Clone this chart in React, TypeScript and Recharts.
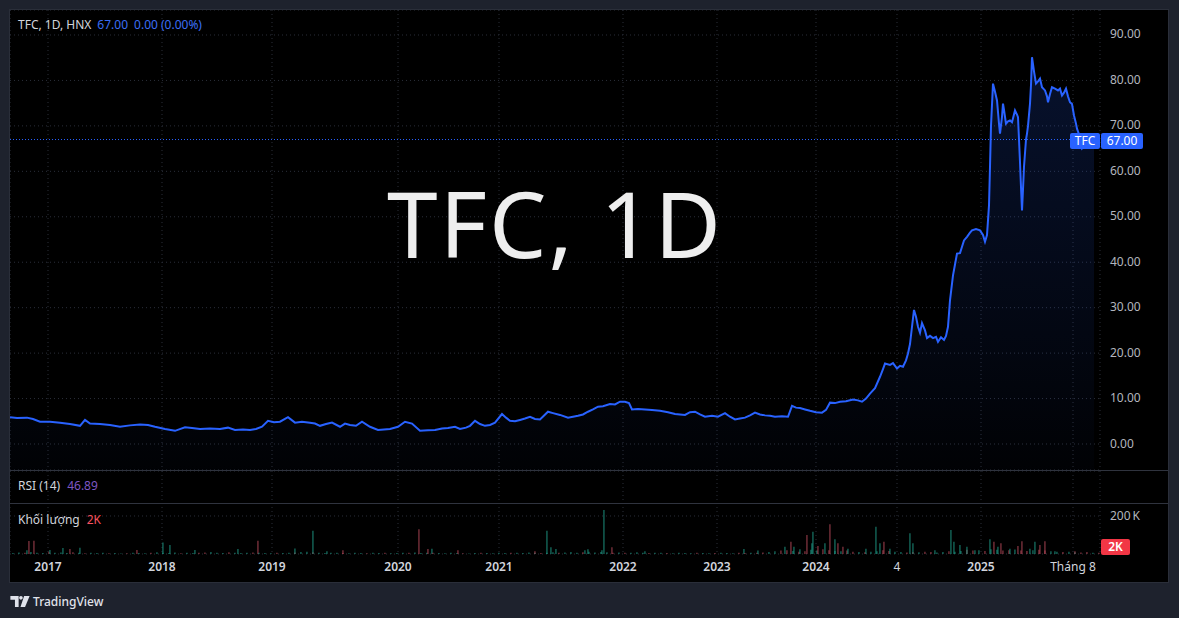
import { ComposedChart, Area, Bar, Cell, XAxis, YAxis, CartesianGrid, ReferenceLine } from 'recharts';

// header / legend values
const symbol = 'TFC';
const interval = '1D';
const exchange = 'HNX';
const lastClose = 67.0;
const change = '0.00 (0.00%)';
const rsiValue = '46.89';
const lastVolume = '2K';

// time axis is bar-indexed (TradingView skips empty sessions)
const tickBars = [38, 152, 262, 388, 489, 613, 707, 806, 887, 971, 1063];
const tickLabels = ['2017', '2018', '2019', '2020', '2021', '2022', '2023', '2024', '4', '2025', 'Tháng 8'];
const yearLabels = ['2017', '2018', '2019', '2020', '2021', '2022', '2023', '2024', '2025'];
const priceTicks = [0, 10, 20, 30, 40, 50, 60, 70, 80, 90];
const volumeTicks = [200000];

// [bar, close]
const closes: [number, number][] = [
  [0, 5.9], [7, 5.7], [17, 5.8], [23, 5.5], [30, 4.9], [40, 4.9], [50, 4.7], [60, 4.4], [70, 4.0], [75, 5.3],
  [80, 4.5], [90, 4.4], [100, 4.2], [110, 3.8], [120, 4.1], [130, 4.3], [138, 4.2], [145, 3.8], [155, 3.3], [165, 2.9],
  [175, 3.7], [182, 3.5], [190, 3.3], [200, 3.4], [210, 3.3], [218, 3.6], [225, 3.1], [233, 3.2], [240, 3.1], [246, 3.3],
  [252, 3.8], [258, 5.1], [264, 4.8], [270, 4.9], [278, 5.9], [285, 4.7], [292, 4.9], [300, 4.7], [305, 4.5], [310, 4.0],
  [316, 4.4], [322, 4.7], [330, 3.8], [335, 4.5], [340, 4.2], [346, 4.0], [352, 4.9], [360, 3.8], [368, 3.1], [374, 3.2],
  [380, 3.3], [388, 3.8], [395, 4.9], [402, 4.5], [410, 2.9], [418, 3.0], [425, 3.1], [432, 3.4], [438, 3.5], [445, 3.8],
  [450, 3.3], [456, 3.6], [460, 4.0], [465, 5.1], [470, 4.4], [475, 4.0], [480, 4.2], [485, 4.7], [492, 6.6], [496, 5.8],
  [500, 5.1], [505, 5.0], [510, 5.3], [515, 5.6], [520, 6.0], [525, 5.5], [530, 5.4], [538, 7.1], [543, 6.8], [550, 6.4],
  [558, 5.8], [563, 6.0], [568, 6.2], [573, 6.5], [578, 7.1], [583, 7.6], [588, 8.2], [593, 8.3], [600, 8.8], [605, 8.7],
  [610, 9.3], [615, 9.3], [619, 9.0], [622, 7.6], [628, 7.7], [635, 7.6], [642, 7.5], [650, 7.3], [658, 7.0], [665, 6.6],
  [670, 6.5], [675, 6.4], [680, 7.0], [685, 7.1], [690, 6.5], [695, 6.0], [702, 6.2], [708, 6.0], [715, 6.8], [720, 6.0],
  [725, 5.4], [730, 5.6], [735, 5.8], [740, 6.3], [745, 6.9], [750, 6.5], [755, 6.3], [760, 6.2], [765, 6.0], [772, 6.1],
  [778, 6.0], [782, 8.4], [786, 8.0], [790, 7.9], [795, 7.6], [800, 7.3], [806, 7.0], [812, 6.9], [816, 7.5], [820, 9.1],
  [825, 9.0], [830, 9.3], [836, 9.4], [843, 9.8], [848, 9.6], [852, 9.3], [856, 10.0], [860, 11.1], [865, 12.3], [870, 14.8],
  [873, 16.5], [875, 17.7], [880, 17.4], [883, 17.8], [887, 16.6], [890, 17.2], [893, 17.0], [896, 18.4], [898, 19.9], [900, 22.0],
  [902, 25.8], [904, 29.5], [906, 28.0], [908, 25.8], [910, 24.5], [912, 26.6], [915, 25.0], [917, 23.3], [920, 23.8], [923, 23.3],
  [926, 23.6], [928, 22.5], [931, 23.5], [934, 22.9], [936, 23.8], [938, 25.8], [940, 31.6], [943, 37.1], [945, 39.5], [947, 41.9],
  [950, 42.0], [952, 43.4], [954, 44.8], [957, 45.6], [960, 46.5], [962, 47.0], [966, 47.3], [970, 47.0], [973, 46.0], [975, 44.5],
  [977, 46.0], [978, 49.2], [979, 52.5], [980, 61.0], [981, 70.0], [983, 79.3], [985, 77.5], [987, 75.6], [989, 70.5], [990, 68.3],
  [992, 72.0], [993, 74.9], [994, 73.5], [996, 70.5], [998, 71.0], [1000, 71.2], [1002, 70.8], [1005, 73.4], [1007, 72.5], [1008, 71.9],
  [1009, 67.0], [1010, 62.0], [1011, 56.5], [1012, 51.4], [1013, 56.0], [1014, 61.0], [1016, 67.0], [1017, 68.3], [1018, 70.0], [1020, 74.9],
  [1021, 79.0], [1022, 85.1], [1024, 82.0], [1026, 79.3], [1028, 79.8], [1030, 80.4], [1032, 78.5], [1035, 77.8], [1037, 76.5], [1038, 75.2],
  [1040, 77.0], [1042, 78.5], [1045, 78.2], [1048, 77.8], [1050, 78.2], [1052, 76.7], [1054, 77.3], [1056, 78.2], [1058, 76.5], [1060, 75.2],
  [1062, 74.8], [1064, 72.3], [1066, 70.5], [1067, 69.4], [1070, 67.5], [1072, 65.0], [1075, 65.6], [1078, 66.1], [1081, 66.5], [1084, 67.0],
];

// volume spikes: [bar, thousands, u=up / d=down]
const volumeSpikes: [number, number, string][] = [
  [17, 20, 'u'], [19, 68, 'd'], [24, 70, 'd'], [40, 21, 'u'], [53, 32, 'u'], [60, 26, 'd'], [70, 33, 'u'], [127, 21, 'd'],
  [153, 60, 'u'], [160, 47, 'u'], [185, 21, 'u'], [228, 26, 'u'], [248, 70, 'd'], [285, 29, 'u'], [303, 123, 'u'], [317, 15, 'u'],
  [333, 20, 'd'], [409, 130, 'd'], [418, 26, 'd'], [422, 28, 'u'], [448, 20, 'd'], [525, 15, 'd'], [537, 123, 'u'], [541, 35, 'u'],
  [546, 26, 'u'], [575, 20, 'u'], [578, 25, 'u'], [592, 20, 'u'], [594, 231, 'u'], [602, 35, 'd'], [635, 15, 'u'], [734, 26, 'u'],
  [748, 18, 'u'], [775, 38, 'u'], [781, 65, 'd'], [784, 38, 'u'], [790, 25, 'u'], [797, 100, 'd'], [802, 56, 'u'], [803, 117, 'u'],
  [808, 42, 'd'], [815, 56, 'u'], [820, 156, 'd'], [825, 77, 'u'], [828, 56, 'd'], [833, 38, 'd'], [838, 28, 'u'], [856, 28, 'u'],
  [866, 144, 'u'], [870, 56, 'u'], [874, 65, 'd'], [880, 28, 'u'], [900, 109, 'u'], [903, 56, 'u'], [925, 20, 'u'], [941, 126, 'u'],
  [944, 65, 'u'], [950, 47, 'u'], [957, 38, 'u'], [965, 20, 'u'], [980, 77, 'u'], [984, 65, 'd'], [988, 38, 'u'], [991, 56, 'd'],
  [1000, 28, 'u'], [1008, 42, 'd'], [1012, 67, 'd'], [1020, 28, 'u'], [1025, 65, 'u'], [1030, 47, 'd'], [1035, 67, 'd'], [1045, 15, 'u'],
  [1065, 15, 'd'],
];

// background volume, one bar every 6 bars starting at bar 3 (thousands)
const volumeBase = [
  5, 8, 6, 10, 7, 5, 12, 6, 8, 5, 9, 6, 4, 7, 5, 6, 4, 5, 3, 4, 6,
  5, 4, 7, 9, 6, 5, 8, 4, 6, 5, 7, 8, 10, 6, 5, 9, 7, 5, 6, 8,
  6, 5, 4, 7, 5, 6, 8, 10, 12, 9, 6, 5, 7, 6, 5, 4, 6, 5, 4, 6,
  5, 6, 4, 5, 7, 6, 8, 5, 6, 7, 5, 4, 6, 5, 4, 3, 5, 6, 5, 4,
  6, 5, 7, 6, 5, 8, 6, 5, 7, 9, 6, 8, 10, 7, 9, 12, 8, 10, 9, 7,
  8, 6, 7, 9, 6, 5, 7, 6, 5, 4, 6, 5, 4, 6, 5, 4, 5, 6, 5, 4,
  6, 5, 7, 6, 8, 10, 14, 18, 20, 16, 12, 15, 22, 18, 25, 20, 16, 14, 18, 12,
  10, 9, 12, 14, 20, 16, 12, 10, 8, 10, 9, 12, 11, 8, 10, 14, 12, 16, 22, 18,
  20, 16, 25, 22, 18, 20, 24, 18, 16, 20, 22, 18, 15, 12, 10, 12, 9, 8, 10, 7, 6,
];
const volumeBaseDir =
  'uuduuuduuududuuuduudu' + 'uuduuuuduudduuuduuud' + 'uuuduuduuduuuuduuudu' + 'uduuuduuuduuuuduuduu' +
  'uuduuuuduuduuuduuuud' + 'uduuuduuduuuuduuduuu' + 'ddudduuddudduudduudd' + 'uduudduuddudduuduudd' +
  'uduudduddudduuduuddud';

const priceData = closes.map(([bar, close]) => ({ bar, close }));

const volumeData = [
  ...volumeBase.map((k, i) => ({ bar: 3 + 6 * i, vol: k * 1000, up: volumeBaseDir[i] !== 'd' })),
  ...volumeSpikes.map(([bar, k, d]) => ({ bar, vol: k * 1000, up: d === 'u' })),
].sort((a, b) => a.bar - b.bar);

const FONT = '"Noto Sans", "Open Sans", sans-serif';
const GRID = '#2a2e39';
const TEXT = '#d1d4dc';
const BLUE = '#2962ff';

const PriceTag = (props: any) => {
  const vb = props.viewBox || {};
  const right = vb.x + vb.width;
  const y = vb.y;
  return (
    <g fontFamily={FONT} fontSize={12}>
      <rect x={right - 30} y={y - 6.5} width={30} height={16} rx={2} fill={BLUE} />
      <text x={right - 15} y={y + 5.5} fill="#ffffff" textAnchor="middle">{symbol}</text>
      <rect x={right + 1} y={y - 6.5} width={42} height={16} rx={2} fill={BLUE} />
      <text x={right + 22} y={y + 5.5} fill="#ffffff" textAnchor="middle">{lastClose.toFixed(2)}</text>
    </g>
  );
};

const PriceTick = (props: any) => (
  <text x={props.x + 2} y={props.y + 3.5} fill="#b2b5be" fontSize={12} fontFamily={FONT} textAnchor="start">
    {Number(props.payload.value).toFixed(2)}
  </text>
);

const VolumeTick = (props: any) => (
  <text x={props.x + 2} y={props.y + 4} fill="#b2b5be" fontSize={12} fontFamily={FONT} textAnchor="start">
    {`${Math.round(props.payload.value / 1000)}\u2009K`}
  </text>
);

const TimeTick = (props: any) => {
  const label = tickLabels[tickBars.indexOf(props.payload.value)] ?? '';
  const isYear = yearLabels.includes(label);
  return (
    <text x={props.x} y={props.y + 9} fill={TEXT} fontSize={12} fontFamily={FONT}
      fontWeight={isYear ? 600 : 400} textAnchor="middle">
      {label}
    </text>
  );
};

export default function App() {
  return (
    <div style={{ position: 'absolute', left: 0, top: 0, width: 1179, height: 618, background: '#1e222d', fontFamily: FONT, overflow: 'hidden' }}>
      <div style={{ position: 'absolute', left: 10, top: 10, width: 1158, height: 572, background: '#000000', outline: `1px solid ${GRID}` }}>
        {/* price pane */}
        <div style={{ position: 'absolute', left: 0, top: 0 }}>
          <ComposedChart width={1158} height={460} data={priceData} margin={{ top: 0, right: 0, bottom: 0, left: 0 }}>
            <defs>
              <linearGradient id="priceFill" x1="0" y1="0" x2="0" y2="1">
                <stop offset="0%" stopColor={BLUE} stopOpacity={0.3} />
                <stop offset="100%" stopColor={BLUE} stopOpacity={0.03} />
              </linearGradient>
            </defs>
            <CartesianGrid stroke={GRID} strokeDasharray="1 3" />
            <XAxis dataKey="bar" type="number" domain={[0, 1090]} ticks={tickBars} hide />
            <YAxis orientation="right" width={68} domain={[-5.72, 95.5]} ticks={priceTicks}
              axisLine={false} tickLine={false} tick={<PriceTick />} allowDataOverflow />
            <ReferenceLine y={lastClose} stroke={BLUE} strokeDasharray="1 2" label={(p: any) => <PriceTag {...p} />} />
            <Area dataKey="close" type="linear" stroke={BLUE} strokeWidth={2} fill="url(#priceFill)"
              baseValue="dataMin" dot={false} activeDot={false} isAnimationActive={false} />
          </ComposedChart>
        </div>

        {/* watermark */}
        <div style={{ position: 'absolute', left: 0, top: 158, width: 1090, textAlign: 'center', fontSize: 91, letterSpacing: 2,
          color: '#eeeeee', lineHeight: '110px', whiteSpace: 'nowrap' }}>
          {`${symbol}, ${interval}`}
        </div>

        {/* legend */}
        <div style={{ position: 'absolute', left: 8, top: 6, fontSize: 12, color: TEXT, whiteSpace: 'nowrap' }}>
          {`${symbol}, ${interval}, ${exchange}`}
          <span style={{ color: '#3b6ef5', marginLeft: 6 }}>{lastClose.toFixed(2)}</span>
          <span style={{ color: '#3b6ef5', marginLeft: 6 }}>{change}</span>
        </div>

        {/* RSI + volume panes */}
        <div style={{ position: 'absolute', left: 0, top: 461 }}>
          <ComposedChart width={1158} height={111} data={volumeData} margin={{ top: 0, right: 0, bottom: 0, left: 0 }}>
            <CartesianGrid stroke={GRID} strokeDasharray="1 3" />
            <XAxis dataKey="bar" type="number" domain={[0, 1090]} ticks={tickBars} height={28}
              axisLine={false} tickLine={false} tick={<TimeTick />} interval={0} />
            <YAxis orientation="right" width={68} domain={[0, 436842]} ticks={volumeTicks}
              axisLine={false} tickLine={false} tick={<VolumeTick />} allowDataOverflow />
            <Bar dataKey="vol" barSize={1} isAnimationActive={false}>
              {volumeData.map((d, i) => (
                <Cell key={i} fill={d.up ? '#1f9e89' : '#b84a5a'} />
              ))}
            </Bar>
          </ComposedChart>
        </div>

        {/* pane dividers */}
        <div style={{ position: 'absolute', left: 0, top: 460, width: 1158, height: 1, background: '#2f333e' }} />
        <div style={{ position: 'absolute', left: 0, top: 493, width: 1158, height: 1, background: '#2f333e' }} />

        <div style={{ position: 'absolute', left: 8, top: 467, fontSize: 12, color: TEXT, whiteSpace: 'nowrap' }}>
          RSI (14)<span style={{ color: '#7e57c2', marginLeft: 7 }}>{rsiValue}</span>
        </div>
        <div style={{ position: 'absolute', left: 8, top: 501, fontSize: 12, color: TEXT, whiteSpace: 'nowrap' }}>
          Khối lượng<span style={{ color: '#f7525f', marginLeft: 7 }}>{lastVolume}</span>
        </div>

        <div style={{ position: 'absolute', left: 1091, top: 529, width: 29, height: 16, background: '#f23645', borderRadius: 2,
          color: '#ffffff', fontSize: 12, fontWeight: 600, lineHeight: '16px', textAlign: 'center' }}>
          {lastVolume}
        </div>
      </div>

      {/* footer logo */}
      <div style={{ position: 'absolute', left: 10, top: 593, display: 'flex', alignItems: 'center', color: '#e0e3eb', fontSize: 12, fontWeight: 500 }}>
        <svg width={20} height={11} viewBox="0 0 21 12" style={{ marginRight: 3 }}>
          <path d="M0 0h9v12H5V4H0z" fill="#e0e3eb" />
          <circle cx={11.5} cy={2} r={2} fill="#e0e3eb" />
          <path d="M15 0h6l-5 12h-5z" fill="#e0e3eb" />
        </svg>
        TradingView
      </div>
    </div>
  );
}
